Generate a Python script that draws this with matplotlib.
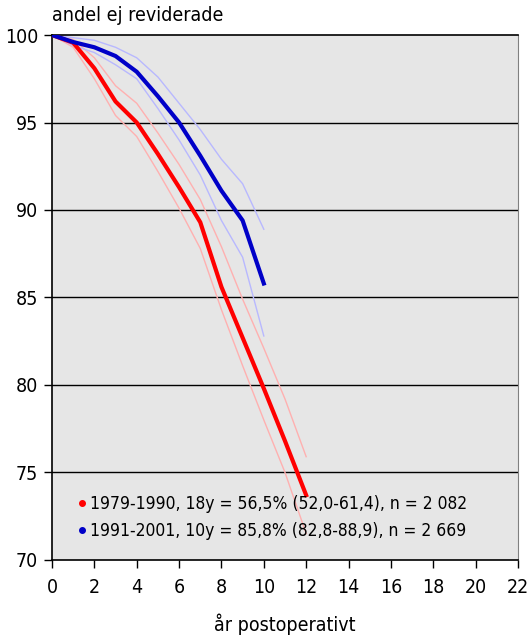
import matplotlib.pyplot as plt
from matplotlib.lines import Line2D

plt.rcParams['font.family'] = ['DejaVu Sans']
plt.rcParams['font.stretch'] = 'condensed'

# andel ej reviderade per år, två operationsperioder med 95% KI
years_a = [0, 1, 2, 3, 4, 5, 6, 7, 8, 9, 10, 11, 12]
mid_a = [100, 99.56, 98.1, 96.2, 95.0, 93.2, 91.3, 89.3, 85.6, 82.7, 79.8, 76.8, 73.7]
hi_a = [100, 99.75, 98.7, 97.1, 96.1, 94.4, 92.6, 90.6, 87.9, 84.9, 82.1, 79.2, 75.9]
lo_a = [100, 99.3, 97.5, 95.4, 94.2, 92.2, 90.1, 87.8, 84.3, 81.1, 78.0, 75.0, 71.5]

years_b = [0, 1, 2, 3, 4, 5, 6, 7, 8, 9, 10]
mid_b = [100, 99.6, 99.3, 98.8, 97.9, 96.5, 95.0, 93.1, 91.1, 89.4, 85.8]
hi_b = [100, 99.85, 99.7, 99.3, 98.7, 97.6, 96.1, 94.6, 92.9, 91.5, 88.9]
lo_b = [100, 99.4, 99.0, 98.3, 97.5, 95.8, 94.0, 92.0, 89.4, 87.3, 82.8]

labels = ['1979-1990, 18y = 56,5% (52,0-61,4), n = 2 082',
          '1991-2001, 10y = 85,8% (82,8-88,9), n = 2 669']
xticks = list(range(0, 23, 2))
yticks = [70, 75, 80, 85, 90, 95, 100]

fig = plt.figure(figsize=(5.28, 6.37), dpi=100)
ax = fig.add_axes([0.0985, 0.121, 0.8825, 0.824])
ax.set_facecolor('#e6e6e6')

for y in yticks[1:-1]:
    ax.axhline(y, color='black', lw=1, zorder=1)

ax.plot(years_a, hi_a, color='#ffb0b0', lw=1, zorder=2)
ax.plot(years_a, lo_a, color='#ffb0b0', lw=1, zorder=2)
ax.plot(years_b, hi_b, color='#b8b8ff', lw=1, zorder=2)
ax.plot(years_b, lo_b, color='#b8b8ff', lw=1, zorder=2)
ax.plot(years_a, mid_a, color='#ff0000', lw=3, zorder=3)
ax.plot(years_b, mid_b, color='#0000c8', lw=3, zorder=3)

ax.set_xlim(0, 22)
ax.set_ylim(70, 100)
ax.set_xticks(xticks)
ax.set_yticks(yticks)
ax.tick_params(labelsize=14, length=6, width=1, direction='out', pad=4)
ax.tick_params(axis='x', pad=7)

for side in ['top', 'left', 'bottom']:
    ax.spines[side].set_color('black')
    ax.spines[side].set_linewidth(1.2)
ax.spines['right'].set_color('#808080')

ax.set_xlabel('år postoperativt', fontsize=14, labelpad=12)
ax.text(0, 1.02, 'andel ej reviderade', transform=ax.transAxes,
        fontsize=14, ha='left', va='bottom')

handles = [Line2D([], [], ls='none', marker='o', ms=4, color='#ff0000'),
           Line2D([], [], ls='none', marker='o', ms=4, color='#0000c8')]
ax.legend(handles, labels, loc='lower left', bbox_to_anchor=(0.04, 0.025),
          frameon=False, fontsize=12.5, handlelength=0.5, handletextpad=0.2,
          labelspacing=0.5, borderaxespad=0)

fig.savefig('out.png', dpi=100)
